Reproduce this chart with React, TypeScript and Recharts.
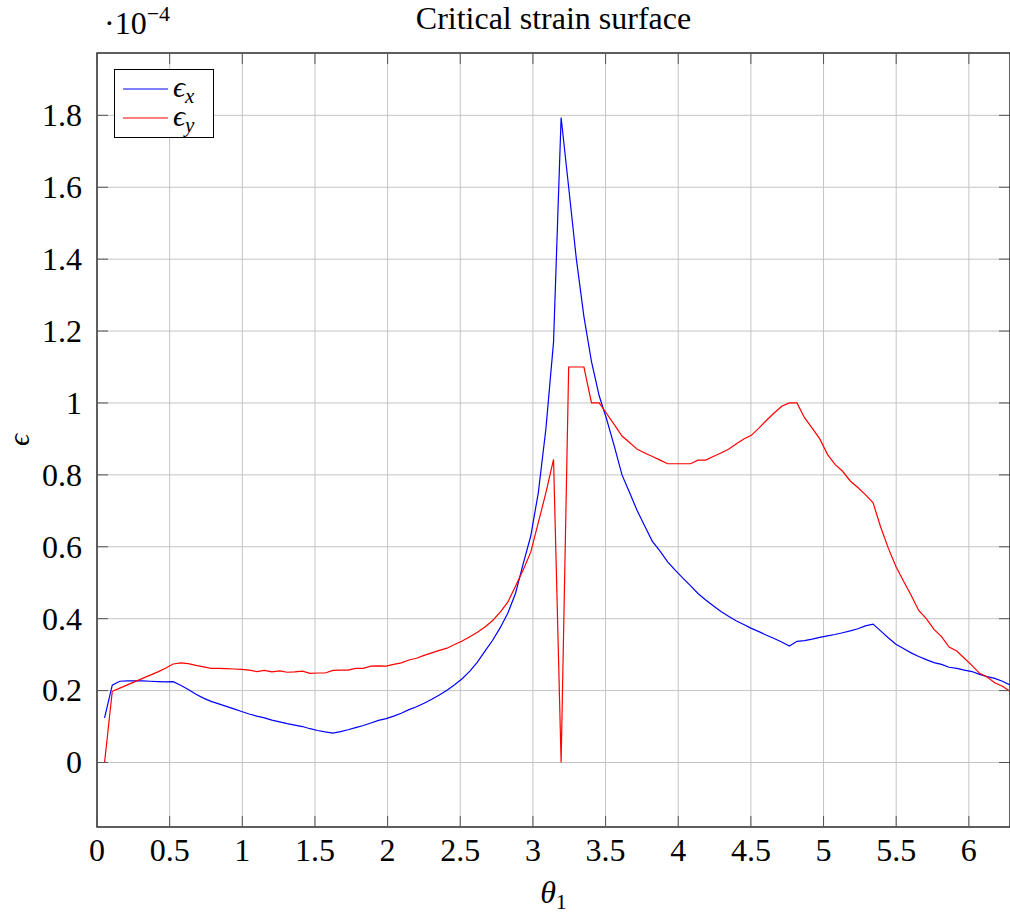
import React from 'react';
import { LineChart, Line, XAxis, YAxis, CartesianGrid, ReferenceArea, Legend } from 'recharts';

// sample points, theta_1 = k * pi / 60 for k = 1..120
const THETA = [
  0.052, 0.105, 0.157, 0.209, 0.262, 0.314, 0.367, 0.419, 0.471, 0.524,
  0.576, 0.628, 0.681, 0.733, 0.785, 0.838, 0.890, 0.942, 0.995, 1.047,
  1.100, 1.152, 1.204, 1.257, 1.309, 1.361, 1.414, 1.466, 1.518, 1.571,
  1.623, 1.676, 1.728, 1.780, 1.833, 1.885, 1.937, 1.990, 2.042, 2.094,
  2.147, 2.199, 2.251, 2.304, 2.356, 2.409, 2.461, 2.513, 2.566, 2.618,
  2.670, 2.723, 2.775, 2.827, 2.880, 2.932, 2.985, 3.037, 3.089, 3.142,
  3.194, 3.246, 3.299, 3.351, 3.403, 3.456, 3.508, 3.560, 3.613, 3.665,
  3.718, 3.770, 3.822, 3.875, 3.927, 3.979, 4.032, 4.084, 4.136, 4.189,
  4.241, 4.294, 4.346, 4.398, 4.451, 4.503, 4.555, 4.608, 4.660, 4.712,
  4.765, 4.817, 4.869, 4.922, 4.974, 5.027, 5.079, 5.131, 5.184, 5.236,
  5.288, 5.341, 5.393, 5.445, 5.498, 5.550, 5.603, 5.655, 5.707, 5.760,
  5.812, 5.864, 5.917, 5.969, 6.021, 6.074, 6.126, 6.178, 6.231, 6.283,
];

// epsilon_x (x 1e-4)
const EPS_X = [
  0.124, 0.215, 0.226, 0.227, 0.227, 0.227, 0.226, 0.225, 0.224, 0.225,
  0.215, 0.203, 0.190, 0.179, 0.170, 0.163, 0.156, 0.149, 0.142, 0.135,
  0.129, 0.124, 0.118, 0.113, 0.108, 0.104, 0.100, 0.094, 0.089, 0.085,
  0.082, 0.086, 0.091, 0.097, 0.103, 0.110, 0.117, 0.122, 0.129, 0.137,
  0.147, 0.155, 0.165, 0.176, 0.188, 0.201, 0.216, 0.233, 0.254, 0.279,
  0.310, 0.340, 0.375, 0.415, 0.470, 0.551, 0.630, 0.750, 0.927, 1.170,
  1.794, 1.600, 1.400, 1.240, 1.115, 1.020, 0.954, 0.880, 0.800, 0.751,
  0.700, 0.657, 0.615, 0.588, 0.558, 0.535, 0.513, 0.492, 0.470, 0.452,
  0.436, 0.420, 0.407, 0.394, 0.384, 0.373, 0.364, 0.354, 0.345, 0.335,
  0.324, 0.337, 0.339, 0.343, 0.348, 0.352, 0.356, 0.361, 0.366, 0.372,
  0.380, 0.385, 0.366, 0.347, 0.329, 0.317, 0.305, 0.295, 0.286, 0.278,
  0.273, 0.265, 0.262, 0.257, 0.253, 0.245, 0.239, 0.234, 0.226, 0.216,
];

// epsilon_y (x 1e-4)
const EPS_Y = [
  0.000, 0.198, 0.207, 0.216, 0.225, 0.234, 0.243, 0.252, 0.262, 0.274,
  0.277, 0.275, 0.270, 0.266, 0.262, 0.262, 0.261, 0.260, 0.259, 0.257,
  0.253, 0.256, 0.252, 0.255, 0.251, 0.252, 0.254, 0.248, 0.249, 0.249,
  0.256, 0.257, 0.257, 0.262, 0.262, 0.268, 0.269, 0.268, 0.273, 0.277,
  0.285, 0.290, 0.298, 0.305, 0.312, 0.318, 0.328, 0.338, 0.350, 0.362,
  0.377, 0.395, 0.418, 0.446, 0.490, 0.535, 0.585, 0.667, 0.750, 0.843,
  0.000, 1.100, 1.100, 1.100, 1.000, 1.000, 0.970, 0.940, 0.908, 0.890,
  0.871, 0.861, 0.851, 0.841, 0.831, 0.831, 0.831, 0.831, 0.841, 0.841,
  0.851, 0.861, 0.871, 0.886, 0.900, 0.910, 0.930, 0.952, 0.972, 0.991,
  1.000, 1.000, 0.959, 0.930, 0.900, 0.857, 0.829, 0.810, 0.783, 0.765,
  0.745, 0.722, 0.655, 0.597, 0.545, 0.505, 0.465, 0.423, 0.400, 0.370,
  0.350, 0.321, 0.310, 0.290, 0.270, 0.248, 0.238, 0.222, 0.212, 0.198,
];

const X_TICKS = [0, 0.5, 1, 1.5, 2, 2.5, 3, 3.5, 4, 4.5, 5, 5.5, 6];
const Y_TICKS = [0, 0.2, 0.4, 0.6, 0.8, 1, 1.2, 1.4, 1.6, 1.8];
const X_DOMAIN = [0, 6.2832];
const Y_DOMAIN = [-0.1794, 1.9734];

const FONT = 'Liberation Serif, Times New Roman, serif';
const W = 1010;
const H = 914;
const TOP = 53;
const BOTTOM = 827;
const LEFT = 97;
const RIGHT = 1010;
const TICK_LEN = 11;

const rows = THETA.map((t, i) => ({ theta: t, ex: EPS_X[i], ey: EPS_Y[i] }));

function XTick(props: any) {
  const { x, payload } = props;
  return (
    <g>
      <line x1={x} x2={x} y1={BOTTOM} y2={BOTTOM - TICK_LEN} stroke="#555" strokeWidth={1} />
      <line x1={x} x2={x} y1={TOP} y2={TOP + TICK_LEN} stroke="#555" strokeWidth={1} />
      <text x={x} y={BOTTOM + 34} textAnchor="middle" fontSize={32} fontFamily={FONT} fill="#000">
        {String(payload.value)}
      </text>
    </g>
  );
}

function YTick(props: any) {
  const { y, payload } = props;
  return (
    <g>
      <line x1={LEFT} x2={LEFT + TICK_LEN} y1={y} y2={y} stroke="#555" strokeWidth={1} />
      <line x1={RIGHT - TICK_LEN} x2={RIGHT} y1={y} y2={y} stroke="#555" strokeWidth={1} />
      <text x={LEFT - 15} y={y} dy="0.34em" textAnchor="end" fontSize={32} fontFamily={FONT} fill="#000">
        {String(payload.value)}
      </text>
    </g>
  );
}

// legend drawn as a small svg so the subscripts stay inside their own row
function LegendBox() {
  const items = [
    { color: '#0000ff', sub: 'x', y: 20 },
    { color: '#ff0000', sub: 'y', y: 49 },
  ];
  return (
    <svg width={100} height={69} style={{ display: 'block', background: '#fff' }}>
      <rect x={0.5} y={0.5} width={99} height={68} fill="#fff" stroke="#000" strokeWidth={1} />
      {items.map(it => (
        <g key={it.sub}>
          <line x1={9} x2={54} y1={it.y} y2={it.y} stroke={it.color} strokeWidth={1.2} />
          <text x={59} y={it.y + 8} fontSize={30} fontFamily={FONT} fill="#000">
            <tspan fontStyle="italic">ϵ</tspan>
            <tspan fontStyle="italic" fontSize={21} dy={6}>{it.sub}</tspan>
          </text>
        </g>
      ))}
    </svg>
  );
}

export default function App() {
  return (
    <div style={{ position: 'absolute', left: 0, top: 0, width: W, height: H, background: '#fff', fontFamily: FONT }}>
      <LineChart width={W} height={H} data={rows} margin={{ top: TOP, right: 0, bottom: 0, left: 0 }}>
        <CartesianGrid stroke="#c4c4c4" strokeWidth={1} />
        <XAxis
          dataKey="theta"
          type="number"
          domain={X_DOMAIN}
          ticks={X_TICKS}
          allowDataOverflow
          height={H - BOTTOM}
          tickLine={false}
          axisLine={false}
          tick={<XTick />}
          interval={0}
          label={({ viewBox }: any) => {
            const cx = viewBox.x + viewBox.width / 2;
            return (
              <text x={cx} y={903} textAnchor="middle" fontSize={32} fontFamily={FONT} fill="#000">
                <tspan fontStyle="italic">θ</tspan>
                <tspan fontSize={22} dy={6}>1</tspan>
              </text>
            );
          }}
        />
        <YAxis
          type="number"
          domain={Y_DOMAIN}
          ticks={Y_TICKS}
          allowDataOverflow
          width={LEFT}
          tickLine={false}
          axisLine={false}
          tick={<YTick />}
          interval={0}
          label={({ viewBox }: any) => {
            const cy = viewBox.y + viewBox.height / 2;
            return (
              <text x={20} y={cy} transform={`rotate(-90, 20, ${cy})`} textAnchor="middle" dy="0.3em"
                fontSize={30} fontStyle="italic" fontFamily={FONT} fill="#000">ϵ</text>
            );
          }}
        />
        <ReferenceArea x1={X_DOMAIN[0]} x2={X_DOMAIN[1]} y1={Y_DOMAIN[0]} y2={Y_DOMAIN[1]}
          fill="none" fillOpacity={0} stroke="#333" strokeWidth={1.5} ifOverflow="visible" />
        <Line type="linear" dataKey="ex" stroke="#0000ff" strokeWidth={1.2} dot={false} isAnimationActive={false} />
        <Line type="linear" dataKey="ey" stroke="#ff0000" strokeWidth={1.2} dot={false} isAnimationActive={false} />
        <Legend
          layout="horizontal"
          verticalAlign="middle"
          align="center"
          content={() => <LegendBox />}
          wrapperStyle={{ position: 'absolute', left: 114, top: 69, width: 100, height: 69 }}
        />
      </LineChart>
      <svg width={W} height={60} style={{ position: 'absolute', left: 0, top: 0, pointerEvents: 'none' }}>
        <text x={104} y={34} fontSize={32} fontFamily={FONT} fill="#000">
          ·10<tspan fontSize={22} dy={-13}>−4</tspan>
        </text>
        <text x={(LEFT + RIGHT) / 2} y={29} textAnchor="middle" fontSize={32} fontFamily={FONT} fill="#000">
          Critical strain surface
        </text>
      </svg>
    </div>
  );
}
